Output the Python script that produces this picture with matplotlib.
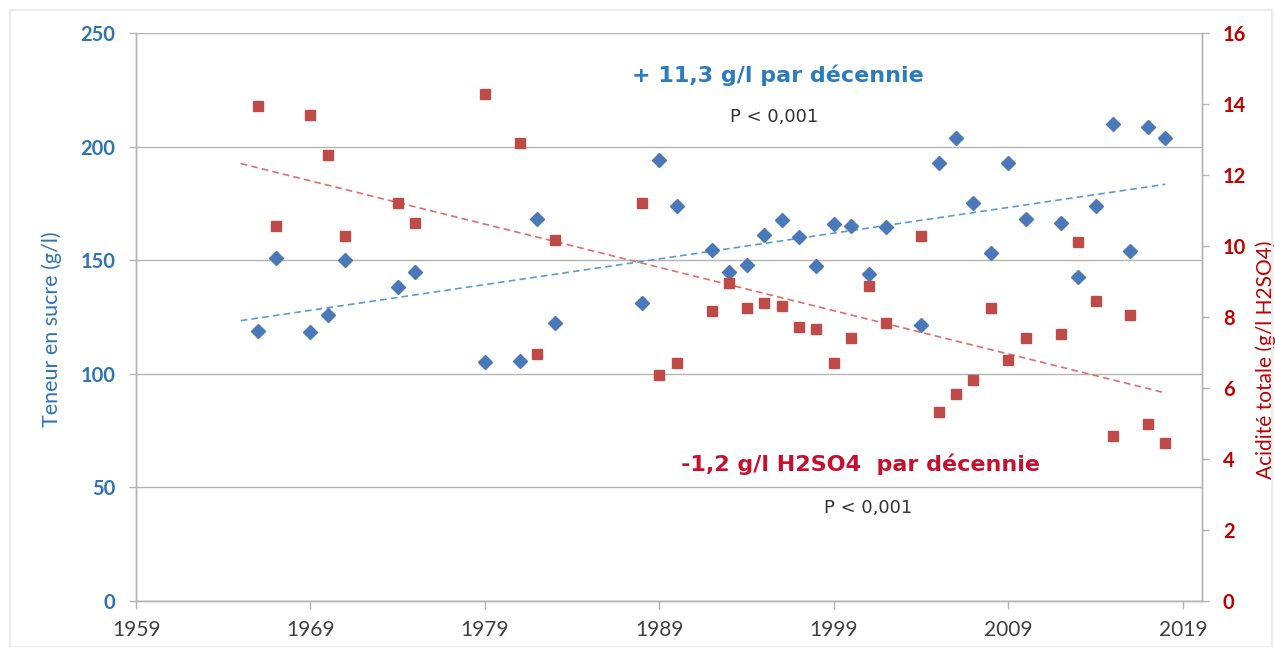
import numpy as np
import matplotlib
matplotlib.use("Agg")
import matplotlib.pyplot as plt
from matplotlib.patches import Rectangle

# ---- data ----
sugar_years = [1966, 1967, 1969, 1970, 1971, 1974, 1975, 1979, 1981, 1982, 1983,
               1988, 1989, 1990, 1992, 1993, 1994, 1995, 1996, 1997, 1998, 1999,
               2000, 2001, 2002, 2004, 2005, 2006, 2007, 2008, 2009, 2010, 2012,
               2013, 2014, 2015, 2016, 2017, 2018]
sugar = [119, 151, 118.5, 126, 150, 138, 145, 105, 105.5, 168, 122.5,
         131, 194, 174, 154.5, 145, 148, 161, 167.5, 160, 147.5, 166,
         165, 144, 164.5, 121.5, 193, 204, 175, 153, 193, 168, 166.5,
         142.5, 174, 210, 154, 208.5, 204]

acid_years = sugar_years
acid = [13.93, 10.55, 13.7, 12.55, 10.27, 11.2, 10.66, 14.27, 12.9, 6.95, 10.16,
        11.2, 6.36, 6.7, 8.18, 8.97, 8.26, 8.4, 8.3, 7.72, 7.65, 6.7,
        7.4, 8.86, 7.82, 10.27, 5.32, 5.82, 6.22, 8.26, 6.8, 7.4, 7.53,
        10.1, 8.44, 4.64, 8.07, 4.98, 4.44]

x_ticks = [1959, 1969, 1979, 1989, 1999, 2009, 2019]
left_ticks = [0, 50, 100, 150, 200, 250]
right_ticks = [0, 2, 4, 6, 8, 10, 12, 14, 16]
trend_span = [1965, 2018]

label_sugar = "Teneur en sucre (g/l)"
label_acid = "Acidité totale (g/l H2SO4)"
txt_sugar = "+ 11,3 g/l par décennie"
txt_acid = "-1,2 g/l H2SO4  par décennie"
txt_p = "P < 0,001"

BLUE_M = "#4A78B8"
RED_M = "#BE4B48"
BLUE_T = "#2E7CC0"
RED_T = "#C8102E"
GRID = "#B4B4B4"

fig = plt.figure(figsize=(12.75, 6.47), dpi=100)
fig.patch.set_facecolor("white")
fig.add_artist(Rectangle((0.008, 0.0), 0.99, 0.985, transform=fig.transFigure,
                         fill=False, edgecolor="#ECECEC", lw=1.5))
ax = fig.add_axes([0.1067, 0.0711, 0.836, 0.8779])
ax2 = ax.twinx()

ax.set_xlim(1959, 2020.1)
ax.set_ylim(0, 250)
ax2.set_ylim(0, 16)

ax.set_yticks(left_ticks)
ax2.set_yticks(right_ticks)
ax.set_xticks(x_ticks)
ax.yaxis.grid(True, color=GRID, lw=1.0)
ax.set_axisbelow(True)

for a in (ax, ax2):
    for s in a.spines.values():
        s.set_color(GRID)
        s.set_linewidth(1.0)
    a.spines["top"].set_visible(False)

tick_font = "Lato"
ax.tick_params(axis="y", colors=GRID, labelcolor="#2E74B5", length=5, width=1,
               labelsize=14.5, pad=10)
ax2.tick_params(axis="y", colors=GRID, labelcolor="#C00000", length=5, width=1,
                labelsize=14.5, pad=10)
ax.tick_params(axis="x", colors=GRID, labelcolor="#404040", length=6, width=1,
               labelsize=15, pad=8)
for lab in ax.get_yticklabels():
    lab.set_fontfamily(tick_font); lab.set_fontweight("bold")
for lab in ax2.get_yticklabels():
    lab.set_fontfamily(tick_font); lab.set_fontweight("bold")
for lab in ax.get_xticklabels():
    lab.set_fontfamily(tick_font)

ax.set_ylabel(label_sugar, color="#2E74B5", fontsize=15.5, fontfamily=tick_font)
ax2.set_ylabel(label_acid, color="#C00000", fontsize=15, fontfamily=tick_font)
ax.yaxis.set_label_coords(-0.069, 0.479)
ax2.yaxis.set_label_coords(1.0505, 0.425)

# scatter
ax.plot(sugar_years, sugar, linestyle="none", marker="D", ms=7.4,
        color=BLUE_M, mec=BLUE_M, zorder=3)
ax2.plot(acid_years, acid, linestyle="none", marker="s", ms=7.4,
         color=RED_M, mec=RED_M, zorder=3)

# trend lines (least squares)
ps = np.polyfit(sugar_years, sugar, 1)
pa = np.polyfit(acid_years, acid, 1)
tx = np.array(trend_span, dtype=float)
ax.plot(tx, np.polyval(ps, tx), color="#5B9BD5", lw=1.2, ls=(0, (4, 2.5)), zorder=2)
ax2.plot(tx, np.polyval(pa, tx), color="#E46C6C", lw=1.2, ls=(0, (4, 2.5)), zorder=2)

# annotations
fig.text(777.5 / 1275, 1 - 75 / 647, txt_sugar, color=BLUE_T, fontsize=16,
         fontweight="bold", fontfamily="DejaVu Sans", ha="center", va="center")
fig.text(774.5 / 1275, 1 - 117 / 647, txt_p, color="#333333", fontsize=13,
         fontfamily="DejaVu Sans", ha="center", va="center")
fig.text(860.5 / 1275, 1 - 464 / 647, txt_acid, color=RED_T, fontsize=16,
         fontweight="bold", fontfamily="DejaVu Sans", ha="center", va="center")
fig.text(868 / 1275, 1 - 508 / 647, txt_p, color="#333333", fontsize=13,
         fontfamily="DejaVu Sans", ha="center", va="center")

fig.savefig("out.png", dpi=100, facecolor="white")
